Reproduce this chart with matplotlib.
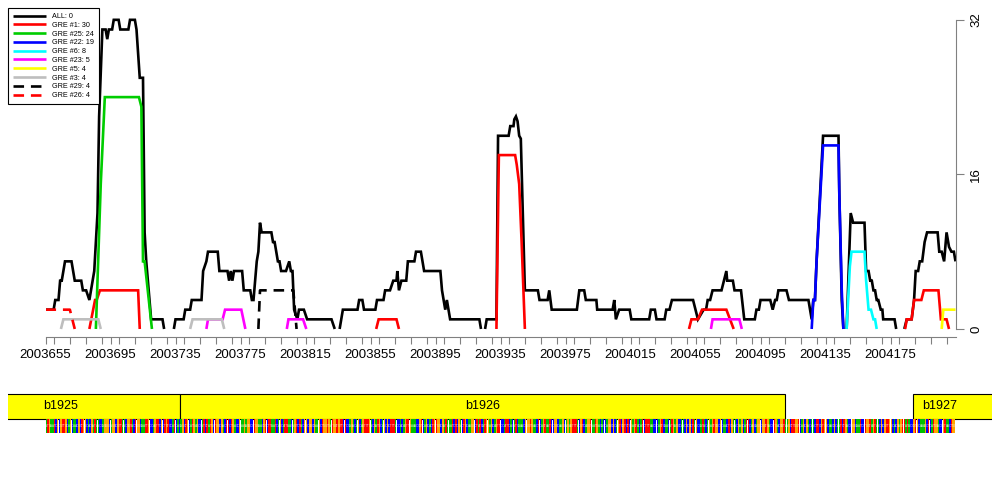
import numpy as np
import matplotlib.pyplot as plt
from matplotlib.patches import Rectangle
from matplotlib.ticker import MultipleLocator

plt.rcParams['font.family'] = ['Liberation Sans', 'DejaVu Sans']

nan = np.nan
START = 2003655          # first base of the window
END = 2004215            # last base of the window

# x values are offsets (bases) from START, y values are counts
all_x = [0, 5, 6, 8, 9, 10, 11, 12, 16, 17, 18, 22, 23, 25, 27, 28, 30, 32, 33, 35,
         37, 38, 39, 41, 42, 45, 46, 51, 52, 55, 56, 58, 60, 61, 62, 63, 65, 72, 73, nan,
         79, 80, 85, 86, 89, 90, 96, 97, 99, 100, 106, 107, 112, 113, 114, 115, 116, 121, 122, 126,
         127, 128, 130, 131, 132, 133, 139, 140, 141, 143, 144, 145, 148, 150, 151, 152, 153, 155, 156, 159,
         161, 176, 178, nan,
         181, 183, 192, 193, 195, 196, 203, 204, 208, 209, 212, 214, 216, 216.5, 217.5, 219, 222, 223, 227, 228,
         231, 232, 233, 243, 244, 246, 247, 248, 249, 267, 268, nan,
         270.5, 271.5, 277.5, 278.5, 285, 286, 288, 288.5, 289.5, 290.5, 291.5, 292.5, 295, 303, 304, 309, 310, 311.5, 327, 328.5,
         331.5, 332.5, 339, 339.5, 349, 350, 351, 353, 359.5, 360.5, 371.5, 372.5, 375, 376, 381, 382, 384, 385.5, 398.5, 401.5,
         405, 406.5, 407.5, 409, 410.5, 416, 417.5, 419, 419.5, 423, 424, 428, 430, 436.5, 437.5, 439, 440, 446, 447.5, 449,
         450, 451, 456, 457.5, 469.5, 471.5, 472.5, 473.5, 474.5, 478.5, 488, 488.5, 490, 491, nan,
         493, 495.5, 497, 504, 505, 506.5, 507.5, 508.5, 509.5, 510.5, 511.5, 512.5, 514, 515, 515.5, 522.5, 523.5, nan,
         528.5, 530, 533, 534.5, 535.5, 537, 538, 539.5, 541, 542.5, 549, 550, 551.5, 553, 554.5, 556, 557.5, 559, 560]
all_y = [2, 2, 3, 3, 5, 5, 6, 7, 7, 6, 5, 5, 4, 4, 3, 4, 6, 12, 22, 31,
         31, 30, 31, 31, 32, 32, 31, 31, 32, 32, 31, 26, 26, 10, 7, 5, 1, 1, 0, nan,
         0, 1, 1, 2, 2, 3, 3, 6, 7, 8, 8, 6, 6, 5, 6, 5, 6, 6, 4, 4,
         3, 3, 7, 8, 11, 10, 10, 9, 9, 7, 7, 6, 6, 7, 6, 6, 2, 1, 2, 2,
         1, 1, 0, nan,
         0, 2, 2, 3, 3, 2, 2, 3, 3, 4, 4, 5, 5, 6, 4, 5, 5, 7, 7, 8,
         8, 7, 6, 6, 4, 2, 3, 2, 1, 1, 0, nan,
         0, 1, 1, 20, 20, 21, 21, 21.7, 22, 21.5, 20, 19.7, 4, 4, 3, 3, 4, 2, 2, 4,
         4, 3, 3, 2, 2, 3, 1, 2, 2, 1, 1, 2, 2, 1, 1, 2, 2, 3, 3, 1,
         2, 2, 3, 3, 4, 4, 5, 6, 5, 5, 4, 4, 1, 1, 2, 2, 3, 3, 2, 3,
         3, 4, 4, 3, 3, 1, 3, 3, 7, 20, 20, 14, 3, 0, nan,
         0, 12, 11, 11, 6, 6, 5, 5, 4, 4, 3, 3, 2, 2, 1, 1, 0, nan,
         0, 1, 1, 3, 6, 6, 7, 7, 9, 10, 10, 8, 8, 7, 10, 8.5, 8, 8, 7]

gre1_x = [27, 30.5, 31.5, 33.5, 57, 58, nan, 203.5, 205, 216, 217.5, nan,
          277.5, 279, 289, 290, 291.5, 293, 295, nan, 396, 397.5, 401.5, 404, 419, 423.5, nan,
          529, 530, 533, 534.5, 539, 540.5, 549.5, 551, 554.5, 556]
gre1_y = [0, 3, 3, 4, 4, 0, nan, 0, 1, 1, 0, nan,
          0, 18, 18, 17, 15, 9, 0, nan, 0, 1, 1, 2, 2, 0, nan,
          0, 1, 1, 3, 3, 4, 4, 1, 1, 0]
gre25_x = [31, 34, 36.5, 57.5, 59, 60, 61, 65.5]
gre25_y = [0, 15, 24, 24, 23, 7, 7, 0]
gre22_x = [471.5, 472.5, 473.5, 474.5, 478.5, 488, 488.5, 490, 491]
gre22_y = [0, 3, 3, 7, 19, 19, 14, 4, 0]
gre6_x = [493, 495, 496, 504, 505, 506.5, 508, 509.5, 510.5, 511.5]
gre6_y = [0, 6.5, 8, 8, 5, 2, 2, 1, 1, 0]
gre23_x = [99, 100, 109, 110.5, 120.5, 123, nan, 148.5, 149.5, 158.5, 160.5, nan, 409.5, 410.5, 427, 428.5]
gre23_y = [0, 1, 1, 2, 2, 0, nan, 0, 1, 1, 0, nan, 0, 1, 1, 0]
gre5_x = [551.5, 552.5, 560]
gre5_y = [0, 2, 2]
gre3_x = [9.5, 11, 32.5, 34, nan, 89, 90.5, 108.5, 110]
gre3_y = [0, 1, 1, 0, nan, 0, 1, 1, 0]
gre29_x = [131, 132, 152.5, 154.5]
gre29_y = [0, 4, 4, 0]
gre26_x = [0, 15, 18]
gre26_y = [2, 2, 0]

labels = ['ALL: 0', 'GRE #1: 30', 'GRE #25: 24', 'GRE #22: 19', 'GRE #6: 8',
          'GRE #23: 5', 'GRE #5: 4', 'GRE #3: 4', 'GRE #29: 4', 'GRE #26: 4']

# genes below the plot
gene_names = ['b1925', 'b1926', 'b1927']
gene_start = [2003500, 2003738, 2004189]
gene_end = [2003738, 2004110, 2004400]
gene_label_x = [2003664, 2003924, 2004205]

seq = ("ATGAATCGCGTTGCAGCAACGCTGGCACGATAACCAGGGCAGGCGTTAACGGTACTGGCAATTGCCAGTT"
       "CGCTGTCCATCACAGCTGCATGAGCCATCTATGCTGGCGACTTCTGACCGAAGAGGCCTGGAACGTCTTA"
       "ATCAGCATTAACAGTCTACGGCGGCGAAGCTGGTGATGGTGTTCTCCAGACAGCAGTTTGACGATGCAGC"
       "GCTTTACCACAGTTGAAACCGTCAGCACTGTGGCGATAAATCTCGACTGCAAGGCTATCATGGAGCAGTT"
       "CCATTCACATCAAACGGGTGAACTCAGTAATCCGGCAAGCAGAGTTTACGTCAGGTAATGACACCAGGCG"
       "CAGTCGTCTCGAGTACATCTTTAACCCAGTCAACATGAGCCAACGCGCTAGCCATACAGAGTGGCGCAAC"
       "TCGAACGAGCATTCAGCAGGCGGTGACCTGACGGTAAGCTTGGTCAGCGACAACTTCGTGGCAACGCAAT"
       "CTGACCGGCAATCCTGGTAGTAACGCGTTGGCACGAGTTATACCGTGCAAAGCTCATGGACCGTAACTGG")
base_colors = {'A': '#00C000', 'C': '#0000FF', 'G': '#FFA500', 'T': '#FF0000'}

series = [
    (all_x, all_y, 'black', '-'),
    (gre1_x, gre1_y, '#FF0000', '-'),
    (gre25_x, gre25_y, '#00CD00', '-'),
    (gre22_x, gre22_y, '#0000FF', '-'),
    (gre6_x, gre6_y, '#00FFFF', '-'),
    (gre23_x, gre23_y, '#FF00FF', '-'),
    (gre5_x, gre5_y, '#FFFF00', '-'),
    (gre3_x, gre3_y, '#BEBEBE', '-'),
    (gre29_x, gre29_y, 'black', '--'),
    (gre26_x, gre26_y, '#FF0000', '--'),
]

fig = plt.figure(figsize=(10, 5), dpi=100)
ax = fig.add_axes([0.0455, 1 - 337.2 / 500, 0.91, 322.2 / 500])

handles = []
for (xs, ys, col, ls), lab in zip(series, labels):
    xs = START + np.array(xs, dtype=float)
    line, = ax.plot(xs, ys, color=col, lw=1.9, ls=ls, label=lab,
                    solid_joinstyle='miter', solid_capstyle='butt')
    if ls == '--':
        line.set_dashes((4, 2.6))
    handles.append(line)

ax.set_xlim(START, END)
ax.set_ylim(-0.85, 32.5)

axis_col = '#808080'
for side in ['top', 'left']:
    ax.spines[side].set_visible(False)
ax.spines['bottom'].set_bounds(START, END)
ax.spines['right'].set_bounds(0, 32)
ax.spines['bottom'].set_color(axis_col)
ax.spines['right'].set_color(axis_col)

ax.set_xticks(np.arange(START, END - 1, 40))
ax.set_xticklabels([str(v) for v in np.arange(START, END - 1, 40)])
ax.xaxis.set_minor_locator(MultipleLocator(10))
ax.tick_params(axis='x', which='both', length=5, width=0.8, color=axis_col,
               labelsize=9.5, pad=3.5)
ax.yaxis.tick_right()
ax.set_yticks([0, 16, 32])
ax.set_yticklabels(['0', '16', '32'], rotation=90, va='center')
ax.tick_params(axis='y', length=5.5, width=0.8, color=axis_col, labelsize=9.5, pad=5)

leg = fig.legend(handles=handles, loc='upper left', bbox_to_anchor=(0.0083, 1 - 8.3 / 500),
                 fontsize=5.2, handlelength=4.6, handletextpad=0.85, labelspacing=0.24,
                 borderpad=0.65, borderaxespad=0, fancybox=False, framealpha=1)
leg.get_frame().set_edgecolor('black')
leg.get_frame().set_linewidth(0.8)

# gene track and sequence strip
gx = fig.add_axes([0.008, 1 - 433 / 500, 0.984, 40 / 500])
gx.set_xlim(START + (8 - 45.5) / 1.625, START + (992 - 45.5) / 1.625)
gx.set_ylim(0, 40)
gx.axis('off')
for name, s, e, lx in zip(gene_names, gene_start, gene_end, gene_label_x):
    gx.add_patch(Rectangle((s, 14.5), e - s, 25, facecolor='#FFFF00',
                           edgecolor='black', lw=0.8))
    gx.text(lx, 27, name, ha='center', va='center', fontsize=9)

gx.bar(START + np.arange(len(seq)), 13.5, width=1, bottom=0.5, align='edge',
       color=[base_colors[b] for b in seq], linewidth=0)
# tiny base letters inside the strip
for i, b in enumerate(seq):
    gx.text(START + i + 0.5, 7.2, b, ha='center', va='center', fontsize=2.2,
            color='white', alpha=0.8)

fig.savefig('out.png', dpi=100)
